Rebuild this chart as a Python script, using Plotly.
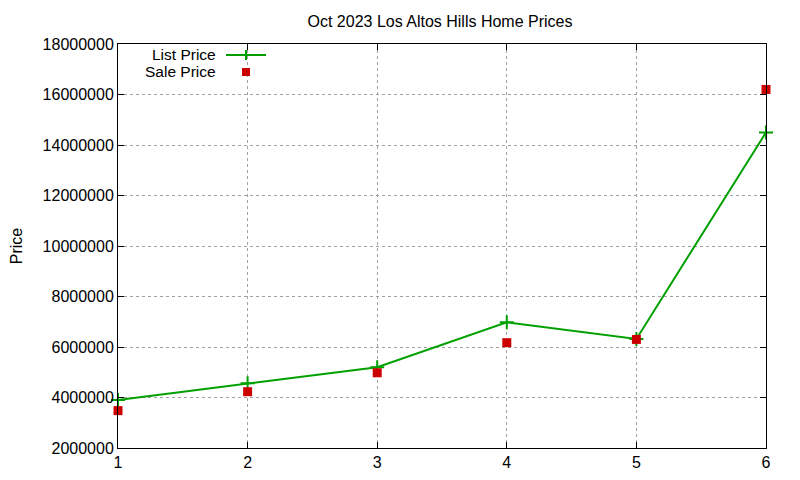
import plotly.graph_objects as go

x_vals = [1, 2, 3, 4, 5, 6]
list_price = [3900000, 4560000, 5200000, 6980000, 6320000, 14500000]
sale_price = [3480000, 4230000, 4980000, 6170000, 6300000, 16200000]
y_ticks = [2000000, 4000000, 6000000, 8000000, 10000000, 12000000, 14000000, 16000000, 18000000]

GREEN = "#00a000"
RED = "#cc0000"
FONT = "Liberation Sans, Arial, sans-serif"

# page has an 8px body margin; figure is placed at (8, 8)
OX, OY = 8, 8
W, H = 800 - OX, 480 - OY
PL, PR, PT, PB = 118, 766, 44, 448  # plot area in page pixels
PW, PH = PR - PL, PB - PT


def px(x):
    return (x - PL) / PW


def py(y):
    return (PB - y) / PH


fig = go.Figure()
fig.add_trace(go.Scatter(x=x_vals, y=list_price, mode="lines+markers", name="List Price",
                         line=dict(color=GREEN, width=2),
                         marker=dict(symbol="cross-thin", size=10, line=dict(color=GREEN, width=2)),
                         cliponaxis=False))
fig.add_trace(go.Scatter(x=x_vals, y=sale_price, mode="markers", name="Sale Price",
                         marker=dict(symbol="square", size=9, color=RED),
                         cliponaxis=False))

axis_common = dict(showline=True, linecolor="black", linewidth=1, mirror="allticks",
                   ticks="inside", ticklen=6, tickcolor="black", automargin=False,
                   showgrid=True, gridcolor="#a0a0a0", griddash="dot", gridwidth=1,
                   zeroline=False, tickfont=dict(family=FONT, size=16, color="black"))

fig.update_xaxes(range=[1, 6], tickvals=x_vals, ticktext=[str(v) for v in x_vals], **axis_common)
fig.update_yaxes(range=[2000000, 18000000], tickvals=y_ticks, ticktext=[str(v) for v in y_ticks],
                 title=dict(text="Price", font=dict(family=FONT, size=16, color="black"), standoff=27),
                 **axis_common)

shapes = [
    dict(type="line", xref="paper", yref="paper", x0=px(226), x1=px(266),
         y0=py(55), y1=py(55), line=dict(color=GREEN, width=2)),
    dict(type="line", xref="paper", yref="paper", x0=px(246), x1=px(246),
         y0=py(50), y1=py(60), line=dict(color=GREEN, width=2)),
    dict(type="rect", xref="paper", yref="paper", x0=px(242), x1=px(250),
         y0=py(68), y1=py(76), fillcolor=RED, line=dict(width=0)),
]
annotations = [
    dict(text="List Price", xref="paper", yref="paper", x=px(218), y=py(54),
         xanchor="right", yanchor="middle", showarrow=False, font=dict(family=FONT, size=15.5, color="black")),
    dict(text="Sale Price", xref="paper", yref="paper", x=px(218), y=py(72),
         xanchor="right", yanchor="middle", showarrow=False, font=dict(family=FONT, size=15.5, color="black")),
]

fig.update_layout(
    width=W, height=H,
    margin=dict(l=PL - OX, r=800 - PR, t=PT - OY, b=480 - PB, autoexpand=False),
    paper_bgcolor="white", plot_bgcolor="white",
    showlegend=False,
    title=dict(text="Oct 2023 Los Altos Hills Home Prices", x=(440 - OX) / W, xanchor="center",
               y=1 - (21 - OY) / H, yanchor="middle", font=dict(family=FONT, size=16, color="black")),
    shapes=shapes, annotations=annotations,
)

fig.write_html("out.html")
